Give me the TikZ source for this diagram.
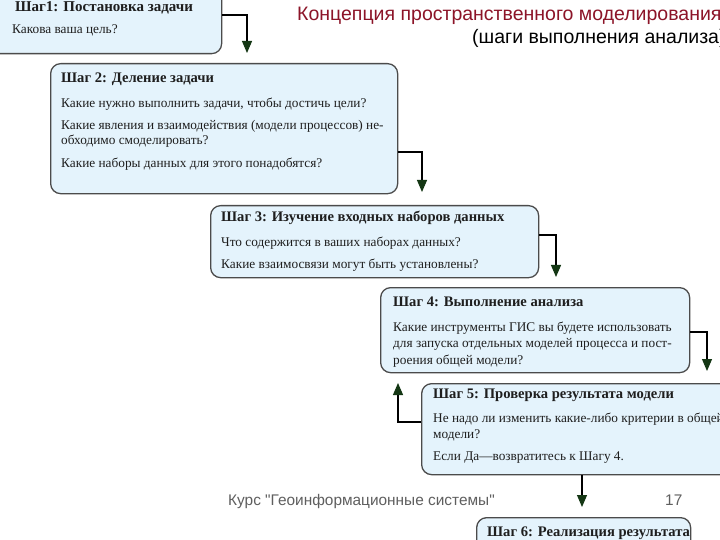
\documentclass[tikz,border=0pt]{standalone}
\usepackage{fontspec}
\setmainfont{Liberation Serif}
\newfontfamily\hdrfont{Liberation Sans}
\usetikzlibrary{arrows.meta,calc}
\definecolor{boxfill}{RGB}{228,243,252}
\definecolor{boxline}{RGB}{75,75,75}
\definecolor{hdrred}{RGB}{140,20,40}
\definecolor{tipgreen}{RGB}{20,55,20}
\definecolor{footgray}{RGB}{95,95,95}
\definecolor{txtcol}{RGB}{30,30,30}
\begin{document}
\begin{tikzpicture}[x=1bp,y=-1bp,
 stepbox/.style={draw=boxline, line width=1.3bp, fill=boxfill, rounded corners=10bp, inner sep=0pt, anchor=north west},
 ttl/.style={anchor=base west, inner sep=0pt, text=txtcol, font=\bfseries\fontsize{14.6bp}{17bp}\selectfont},
 txt/.style={anchor=base west, inner sep=0pt, text=txtcol, font=\fontsize{13.3bp}{15bp}\selectfont},
 conn/.style={draw=black, line width=1.1bp, -{Triangle[length=12bp,width=10bp,color=tipgreen]}},
 hdr/.style={anchor=base west, inner sep=0pt, font=\hdrfont\fontsize{19.5bp}{22bp}\selectfont},
 foot/.style={anchor=base west, inner sep=0pt, text=footgray, font=\hdrfont\fontsize{15.4bp}{18bp}\selectfont},
]
\clip (0,0) rectangle (720,540);
\fill[white] (0,0) rectangle (720,540);

% boxes
\node[stepbox, minimum width=241bp, minimum height=73bp] (b1) at (-20,-20) {};
\node[stepbox, minimum width=347bp, minimum height=130bp] (b2) at (50,63) {};
\node[stepbox, minimum width=328bp, minimum height=72bp] (b3) at (210,205) {};
\node[stepbox, minimum width=309bp, minimum height=85bp] (b4) at (380,287) {};
\node[stepbox, minimum width=339bp, minimum height=91bp] (b5) at (421,383) {};
\node[stepbox, minimum width=214bp, minimum height=63bp] (b6) at (476,517) {};

% connectors
\coordinate (e1) at (247,53);
\coordinate (e2) at (422,192);
\coordinate (e3) at (556,277);
\coordinate (e4) at (707,371);
\coordinate (e5) at (398,383);
\coordinate (e6) at (582,507);
\draw[conn] ($(b1.north east)+(0,35)$) -| (e1);
\draw[conn] ($(b2.north east)+(0,89)$) -| (e2);
\draw[conn] ($(b3.north east)+(0,30)$) -| (e3);
\draw[conn] ($(b4.north east)+(0,45)$) -| (e4);
\draw[conn] ($(b5.north west)+(0,39)$) -| (e5);
\draw[conn] ($(b5.south west)+(161,0)$) -- (e6);

% box texts
\node[ttl, font=\bfseries\fontsize{15bp}{18bp}\selectfont] (s1) at (15,12) {Шаг1: Постановка задачи};
\node[txt] (s1a) at (12,34) {Какова ваша цель?};

\node[ttl] (s2) at (61,83) {Шаг 2: Деление задачи};
\node[txt] (s2a) at (61,108) {Какие нужно выполнить задачи, чтобы достичь цели?};
\node[txt] (s2b) at (61,130) {Какие явления и взаимодействия (модели процессов) не-};
\node[txt] (s2c) at (61,145) {обходимо смоделировать?};
\node[txt] (s2d) at (61,168) {Какие наборы данных для этого понадобятся?};

\node[ttl] (s3) at (221,222) {Шаг 3: Изучение входных наборов данных};
\node[txt] (s3a) at (221,247) {Что содержится в ваших наборах данных?};
\node[txt] (s3b) at (221,269) {Какие взаимосвязи могут быть установлены?};

\node[ttl] (s4) at (393,306) {Шаг 4: Выполнение анализа};
\node[txt] (s4a) at (393,331) {Какие инструменты ГИС вы будете использовать};
\node[txt] (s4b) at (393,347) {для запуска отдельных моделей процесса и пост-};
\node[txt] (s4c) at (393,364) {роения общей модели?};

\node[ttl] (s5) at (433,398) {Шаг 5: Проверка результата модели};
\node[txt] (s5a) at (433,422) {Не надо ли изменить какие-либо критерии в общей};
\node[txt] (s5b) at (433,438) {модели?};
\node[txt] (s5c) at (433,460) {Если Да—возвратитесь к Шагу 4.};

\node[ttl] (s6) at (487,536) {Шаг 6: Реализация результата};

% header and footer
\node[hdr, text=hdrred] (h1) at (297,21) {Концепция пространственного моделирования};
\node[hdr, text=black] (h2) at (472,44) {(шаги выполнения анализа)};
\node[foot] (f1) at (228,505) {Курс "Геоинформационные системы"};
\node[foot] (f2) at (665,505) {17};
\end{tikzpicture}
\end{document}
